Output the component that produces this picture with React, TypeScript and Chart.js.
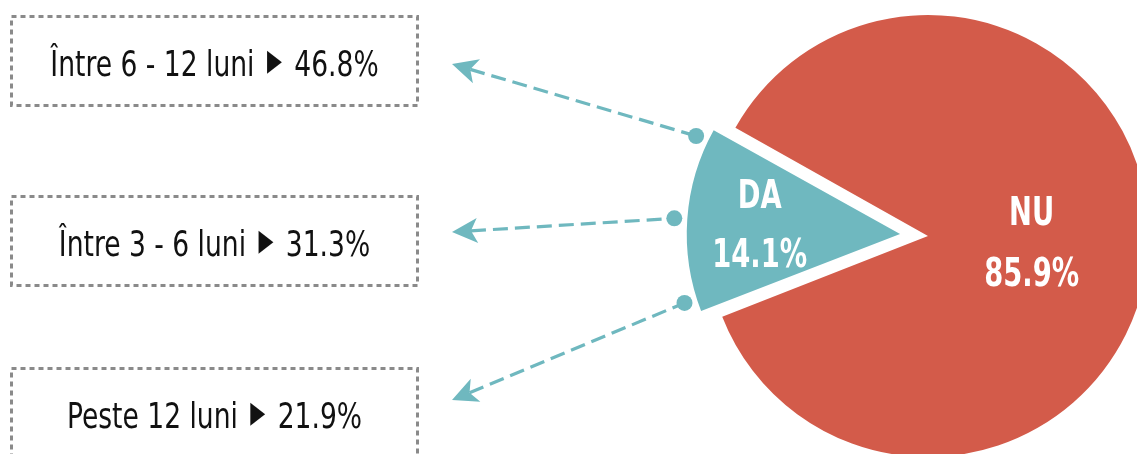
import React, { useEffect, useRef } from "react";
import { Chart, registerables } from "chart.js";

Chart.register(...registerables);

// ---- data ----
const categories = ["DA", "NU"];
const shares = [14.1, 85.9];
const breakdownLabels = ["Între 6 - 12 luni", "Între 3 - 6 luni", "Peste 12 luni"];
const breakdownValues = [46.8, 31.3, 21.9];

// ---- style / layout ----
const W = 1137;
const H = 454;
const TEAL = "#6FB8BF";
const RED = "#D35B4A";
const sliceColors = [TEAL, RED];
const FONT = '"Liberation Sans Narrow", "DejaVu Sans Condensed", "Arial Narrow", sans-serif';
const BOX_SX = 0.82;
const TRI_SX = 0.72;
const PIE_SX = 0.78;

const PIE_RADIUS = 221;
const SLICE_OFFSET = 112; // Chart.js translates by offset / 4
const DA_RADIUS_TRIM = 14;

const boxes = [
  { x: 10, y: 15, w: 409, h: 92 },
  { x: 10, y: 195, w: 409, h: 92 },
  { x: 10, y: 367, w: 409, h: 92 },
];
const arrowTips = [
  [452, 64],
  [452, 232],
  [452, 400],
];
const dotAngleFactors = [0.855, 0, -0.855];

function condensedText(ctx: CanvasRenderingContext2D, text: string, x: number, y: number, sx: number) {
  ctx.save();
  ctx.translate(x, y);
  ctx.scale(sx, 1);
  ctx.fillText(text, 0, 0);
  ctx.restore();
}

const annotatePlugin = {
  id: "annotate",
  afterDatasetsUpdate(chart: any) {
    const arc = chart.getDatasetMeta(0).data[0];
    if (arc) arc.outerRadius = arc.outerRadius - DA_RADIUS_TRIM;
  },
  afterDatasetsDraw(chart: any) {
    const ctx = chart.ctx as CanvasRenderingContext2D;
    const arcs = chart.getDatasetMeta(0).data;
    const da = arcs[0];
    const nu = arcs[1];
    const daMid = (da.startAngle + da.endAngle) / 2;
    const daHalf = (da.endAngle - da.startAngle) / 2;
    const shift = (da.options.offset || 0) / 4;
    const fix = 1 - Math.sin(Math.min(Math.PI, da.circumference));
    const daR = da.outerRadius + shift * fix;
    const daCx = da.x + Math.cos(daMid) * shift;
    const daCy = da.y + Math.sin(daMid) * shift;

    ctx.save();
    // pie labels
    ctx.fillStyle = "#ffffff";
    ctx.textAlign = "center";
    ctx.textBaseline = "alphabetic";
    ctx.font = `bold 39px ${FONT}`;
    const dlx = daCx + Math.cos(daMid) * daR * 0.66;
    const dly = daCy + Math.sin(daMid) * daR * 0.66;
    condensedText(ctx, categories[0], dlx, dly - 16, PIE_SX);
    condensedText(ctx, `${shares[0].toFixed(1)}%`, dlx, dly + 43, PIE_SX);

    const nuMid = (nu.startAngle + nu.endAngle) / 2;
    const nlx = nu.x + Math.cos(nuMid) * nu.outerRadius * 0.47;
    const nly = nu.y + Math.sin(nuMid) * nu.outerRadius * 0.47;
    condensedText(ctx, categories[1], nlx, nly - 18, PIE_SX);
    condensedText(ctx, `${shares[1].toFixed(1)}%`, nlx, nly + 43, PIE_SX);

    // boxes
    const lw = 3;
    boxes.forEach((b, i) => {
      ctx.setLineDash([5, 4]);
      ctx.lineWidth = lw;
      ctx.strokeStyle = "#8a8a8a";
      ctx.strokeRect(b.x + lw / 2, b.y + lw / 2, b.w - lw, b.h - lw);
      ctx.setLineDash([]);
      ctx.fillStyle = "#111111";
      ctx.textAlign = "left";
      const left = `${breakdownLabels[i]} `;
      const tri = "▶";
      const right = ` ${breakdownValues[i].toFixed(1)}%`;
      const gap = 4;
      ctx.font = `36px ${FONT}`;
      const wl = ctx.measureText(left).width * BOX_SX;
      const wr = ctx.measureText(right).width * BOX_SX;
      ctx.font = `30px ${FONT}`;
      const wt = ctx.measureText(tri).width * TRI_SX;
      const total = wl + wt + wr + 2 * gap;
      let x = b.x + b.w / 2 - total / 2;
      const base = b.y + 61;
      ctx.font = `36px ${FONT}`;
      condensedText(ctx, left, x, base, BOX_SX);
      x += wl + gap;
      ctx.font = `30px ${FONT}`;
      condensedText(ctx, tri, x, base - 6, TRI_SX);
      x += wt + gap;
      ctx.font = `36px ${FONT}`;
      condensedText(ctx, right, x, base, BOX_SX);
    });

    // arrows
    arrowTips.forEach((tip, i) => {
      const ang = daMid + dotAngleFactors[i] * daHalf;
      const dx = daCx + Math.cos(ang) * (daR + 13);
      const dy = daCy + Math.sin(ang) * (daR + 13);
      const vx = dx - tip[0];
      const vy = dy - tip[1];
      const len = Math.hypot(vx, vy);
      const ux = vx / len;
      const uy = vy / len;
      const px = -uy;
      const py = ux;
      const nx = tip[0] + ux * 19;
      const ny = tip[1] + uy * 19;

      ctx.strokeStyle = TEAL;
      ctx.fillStyle = TEAL;
      ctx.lineWidth = 3.2;
      ctx.setLineDash([15, 7]);
      ctx.beginPath();
      ctx.moveTo(nx, ny);
      ctx.lineTo(dx, dy);
      ctx.stroke();
      ctx.setLineDash([]);

      ctx.beginPath();
      ctx.arc(dx, dy, 8, 0, Math.PI * 2);
      ctx.fill();

      ctx.beginPath();
      ctx.moveTo(tip[0], tip[1]);
      ctx.lineTo(tip[0] + ux * 25.5 + px * 12.5, tip[1] + uy * 25.5 + py * 12.5);
      ctx.lineTo(nx, ny);
      ctx.lineTo(tip[0] + ux * 25.5 - px * 12.5, tip[1] + uy * 25.5 - py * 12.5);
      ctx.closePath();
      ctx.fill();
    });
    ctx.restore();
  },
};

export default function App() {
  const ref = useRef<HTMLCanvasElement | null>(null);
  useEffect(() => {
    if (!ref.current) return;
    const chart = new Chart(ref.current, {
      type: "pie",
      data: {
        labels: categories,
        datasets: [
          {
            data: shares,
            backgroundColor: sliceColors,
            borderWidth: 0,
            offset: [SLICE_OFFSET, 0],
            clip: false,
          } as any,
        ],
      },
      options: {
        responsive: false,
        animation: false,
        events: [],
        rotation: 248.6,
        radius: PIE_RADIUS,
        layout: { padding: { left: 719, top: 18, right: 0, bottom: 0 } },
        plugins: { legend: { display: false }, tooltip: { enabled: false } },
      } as any,
      plugins: [annotatePlugin],
    });
    return () => chart.destroy();
  }, []);
  return (
    <div style={{ position: "absolute", left: 0, top: 0, width: W, height: H, background: "#fff" }}>
      <canvas ref={ref} width={W} height={H} style={{ display: "block" }} />
    </div>
  );
}
